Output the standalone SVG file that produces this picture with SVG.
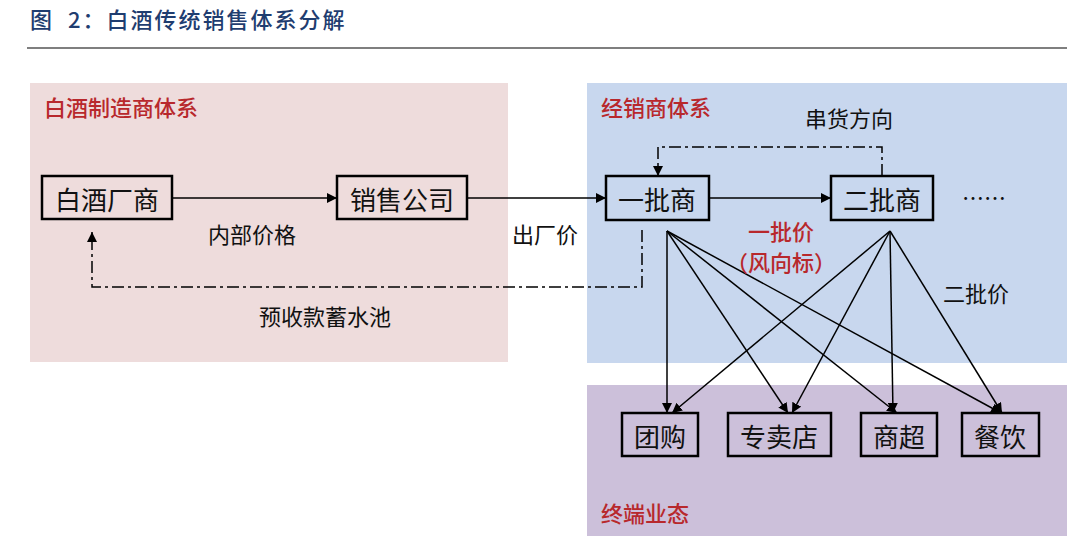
<svg xmlns="http://www.w3.org/2000/svg" width="1080" height="544" viewBox="0 0 1080 544">
<style>
text{font-family:"Noto Sans CJK SC","Liberation Sans",sans-serif;}
.node rect{fill:none;stroke:#000;stroke-width:2.5;}
.nl{font-size:26px;fill:#111;text-anchor:middle;dominant-baseline:central;}
.lb{font-size:22px;fill:#111;text-anchor:middle;dominant-baseline:central;}
.red{font-size:22px;fill:#b8282c;font-weight:500;dominant-baseline:central;}
.ln{stroke:#000;stroke-width:1.5;fill:none;}
.dd{stroke:#000;stroke-width:1.5;fill:none;stroke-dasharray:12 4 3 4;}
</style>
<defs>
<marker id="ah" viewBox="0 0 10 10" refX="10" refY="5" markerWidth="10" markerHeight="10" markerUnits="userSpaceOnUse" orient="auto">
<path d="M0,0 L10,5 L0,10 z" fill="#000"/>
</marker>
</defs>
<rect width="1080" height="544" fill="#fff"/>
<text x="30" y="28" font-size="22" font-weight="500" fill="#1f3d70" letter-spacing="2" xml:space="preserve">图  2：白酒传统销售体系分解</text>
<line x1="27" y1="48" x2="1067" y2="48" stroke="#000" stroke-width="1.2"/>
<g id="regions">
<rect x="30" y="83" width="478" height="279" fill="#eedcdc"/>
<rect x="587" y="83" width="480" height="280" fill="#c8d7ee"/>
<rect x="587" y="385" width="480" height="151" fill="#ccc0da"/>
<text class="red" x="44" y="106">白酒制造商体系</text>
<text class="red" x="601" y="106">经销商体系</text>
<text class="red" x="601" y="512">终端业态</text>
</g>
<g id="connectors">
<line class="ln" x1="172" y1="198" x2="337" y2="198" marker-end="url(#ah)"/>
<line class="ln" x1="467" y1="198" x2="606" y2="198" marker-end="url(#ah)"/>
<line class="ln" x1="709" y1="198" x2="831" y2="198" marker-end="url(#ah)"/>
<polyline class="dd" points="642,230 642,287 92,287 92,232" marker-end="url(#ah)"/>
<polyline class="dd" points="882,176 882,147 658,147 658,176" marker-end="url(#ah)"/>
<line class="ln" x1="667" y1="231" x2="667" y2="413" marker-end="url(#ah)"/>
<line class="ln" x1="667" y1="231" x2="788" y2="413" marker-end="url(#ah)"/>
<line class="ln" x1="667" y1="231" x2="897" y2="413" marker-end="url(#ah)"/>
<line class="ln" x1="667" y1="231" x2="1001" y2="413" marker-end="url(#ah)"/>
<line class="ln" x1="890" y1="231" x2="672" y2="413" marker-end="url(#ah)"/>
<line class="ln" x1="890" y1="231" x2="792" y2="413" marker-end="url(#ah)"/>
<line class="ln" x1="890" y1="231" x2="893" y2="413" marker-end="url(#ah)"/>
<line class="ln" x1="890" y1="231" x2="1002" y2="413" marker-end="url(#ah)"/>
</g>
<g id="labels">
<text class="lb" x="252" y="233">内部价格</text>
<text class="lb" x="325" y="315">预收款蓄水池</text>
<text class="lb" x="545" y="233">出厂价</text>
<text class="lb" x="849" y="117">串货方向</text>
<text class="lb" x="976" y="292">二批价</text>
<text class="red" x="781" y="230" text-anchor="middle" font-size="21">一批价</text>
<text class="red" x="781" y="261" text-anchor="middle" font-size="21">（风向标）</text>
<text class="lb" x="984" y="196">……</text>
</g>
<g id="n1" class="node"><rect x="42" y="176" width="130" height="43"/><text class="nl" x="107" y="198">白酒厂商</text></g>
<g id="n2" class="node"><rect x="337" y="176" width="130" height="43"/><text class="nl" x="402" y="198">销售公司</text></g>
<g id="n3" class="node"><rect x="606" y="176" width="103" height="44"/><text class="nl" x="657" y="198">一批商</text></g>
<g id="n4" class="node"><rect x="831" y="176" width="102" height="44"/><text class="nl" x="882" y="198">二批商</text></g>
<g id="n5" class="node"><rect x="622" y="413" width="76" height="43"/><text class="nl" x="660" y="435">团购</text></g>
<g id="n6" class="node"><rect x="728" y="413" width="103" height="43"/><text class="nl" x="779" y="435">专卖店</text></g>
<g id="n7" class="node"><rect x="861" y="413" width="76" height="43"/><text class="nl" x="899" y="435">商超</text></g>
<g id="n8" class="node"><rect x="962" y="413" width="77" height="43"/><text class="nl" x="1000" y="435">餐饮</text></g>
</svg>
